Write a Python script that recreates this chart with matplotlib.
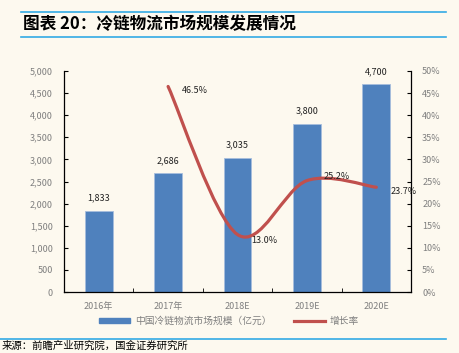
import numpy as np
import matplotlib.pyplot as plt
from matplotlib.path import Path
from matplotlib.patches import PathPatch
from matplotlib.lines import Line2D
from matplotlib.patches import Patch

plt.rcParams['font.family'] = ['Noto Sans CJK SC', 'DejaVu Sans']

years = ['2016年', '2017年', '2018E', '2019E', '2020E']
scale = [1833, 2686, 3035, 3800, 4700]
growth = [None, 46.5, 13.0, 25.2, 23.7]
bar_labels = ['1,833', '2,686', '3,035', '3,800', '4,700']

bg = '#FDF9EF'
bar_c = '#4F81BD'
line_c = '#C0504D'
tick_c = '#7F7F7F'

fig = plt.figure(figsize=(4.6, 3.53), dpi=100, facecolor=bg)
ax = fig.add_axes([64/460, 1-292/353, 347/460, 221/353])
ax.set_facecolor(bg)
x = np.arange(len(years))
ax.bar(x, scale, width=0.4, color=bar_c, edgecolor='#A7BEDD', linewidth=0.6, zorder=2)
for xi, v, s in zip(x, scale, bar_labels):
    ax.annotate(s, (xi, v), xytext=(0, 6), textcoords='offset points',
                ha='center', va='bottom', fontsize=6.5, color='#222222')
ax.set_xlim(-0.5, len(years)-0.5)
ax.set_ylim(0, 5000)
ax.set_yticks(np.arange(0, 5001, 500))
ax.set_yticklabels([f'{v:,}' for v in range(0, 5001, 500)])
ax.set_xticks(x)
ax.set_xticklabels(years)
ax.set_xticks(np.arange(-0.5, len(years), 1), minor=True)
ax.tick_params(axis='x', which='major', length=0, labelsize=6.5, labelcolor=tick_c, pad=7)
ax.tick_params(axis='x', which='minor', direction='in', length=3, width=0.6)
ax.tick_params(axis='y', direction='in', length=3, width=0.8, labelsize=6.5, labelcolor=tick_c, pad=8)
ax.spines['top'].set_visible(False)
ax.spines['right'].set_visible(False)
for s in ['left', 'bottom']:
    ax.spines[s].set_linewidth(0.9)

ax2 = ax.twinx()
ax2.set_ylim(0, 50)
ax2.set_yticks(np.arange(0, 51, 5))
ax2.set_yticklabels([f'{v}%' for v in range(0, 51, 5)])
ax2.tick_params(axis='y', direction='in', length=3, width=0.8, labelsize=6.5, labelcolor=tick_c, pad=8)
for s in ['top', 'left', 'bottom']:
    ax2.spines[s].set_visible(False)
ax2.spines['right'].set_linewidth(0.9)

# smooth line (Excel-like Catmull-Rom bezier through the data points)
gx = [xi for xi, g in zip(x, growth) if g is not None]
gy = [g for g in growth if g is not None]
pts = np.column_stack([gx, gy]).astype(float)
n = len(pts)
verts = [pts[0]]
codes = [Path.MOVETO]
for i in range(n - 1):
    p0 = pts[i - 1] if i > 0 else pts[i]
    p1, p2 = pts[i], pts[i + 1]
    p3 = pts[i + 2] if i + 2 < n else pts[i + 1]
    c1 = p1 + (p2 - p0) / 6
    c2 = p2 - (p3 - p1) / 6
    verts += [c1, c2, p2]
    codes += [Path.CURVE4] * 3
ax2.add_patch(PathPatch(Path(verts, codes), facecolor='none', edgecolor=line_c,
                        linewidth=2.3, capstyle='round', zorder=3))
offs = [(10, -3), (10, -4), (12, 3), (10, -3)]
for xi, g, o in zip(gx, gy, offs):
    ax2.annotate(f'{g:.1f}%', (xi, g), xytext=o, textcoords='offset points',
                 ha='left', va='center', fontsize=6.5, color='#222222')

handles = [Patch(color=bar_c), Line2D([], [], color=line_c, linewidth=2.3)]
fig.legend(handles, ['中国冷链物流市场规模（亿元）', '增长率'], loc='center',
           bbox_to_anchor=(229/460, 1-321/353), ncol=2, frameon=False,
           fontsize=7, labelcolor=tick_c, handlelength=3.2, handleheight=0.5,
           columnspacing=2.3, handletextpad=0.5)

# header and footer
fig.add_artist(Line2D([21/460, 446/460], [1-12/353, 1-12/353], color='#33AAE5', linewidth=1.2))
fig.add_artist(Line2D([21/460, 446/460], [1-37/353, 1-37/353], color='#33AAE5', linewidth=1.2))
fig.text(23/460, 1-24/353, '图表 20：冷链物流市场规模发展情况', fontsize=12,
         fontweight='bold', style='italic', va='center', ha='left', color='black')
fig.add_artist(Line2D([0, 446/460], [1-339/353, 1-339/353], color='#33AAE5', linewidth=1.2))
fig.text(2/460, 1-346/353, '来源：前瞻产业研究院，国金证券研究所', fontsize=7.5,
         va='center', ha='left', color='black')

fig.savefig('out.png', dpi=100, facecolor=bg)
